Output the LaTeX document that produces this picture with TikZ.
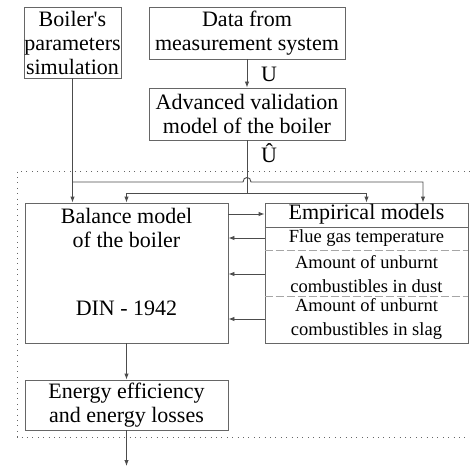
\documentclass[tikz,border=0pt]{standalone}
\usepackage{fontspec}
\setmainfont{Liberation Serif}
\usetikzlibrary{arrows.meta}
\newcommand{\boxfont}{\fontsize{22}{24}\selectfont}
\newcommand{\rowfont}{\fontsize{18.5}{24}\selectfont}
\tikzset{
  box/.style={draw=black!60, line width=0.9pt, inner sep=0pt, align=center, font=\boxfont},
  link/.style={black!70, line width=0.9pt},
}

\begin{document}
\begin{tikzpicture}[x=1pt,y=-1pt,>={Latex[length=6pt,width=4.5pt]}]
          \useasboundingbox (0,0) rectangle (470,468);
          % frame round the calculation part
          \draw[black!60, line width=0.9pt, dash pattern=on 0.9pt off 4.5pt]
          (470,171) -- (17,171) -- (17,437) -- (470,437);
          \node[box, minimum width=97pt, minimum height=71pt] (sim) at (72.5,42.5) {Boiler\textquotesingle s\\parameters\\simulation};
          \node[box, minimum width=196pt, minimum height=52pt] (data) at (247,33) {Data from\\measurement system};
          \node[box, minimum width=196pt, minimum height=52pt] (valid) at (247,114) {Advanced validation\\model of the boiler};
          \node[box, minimum width=203pt, minimum height=140pt] (balance) at (126.5,273) {};
          \node[font=\boxfont, align=center] (baltitle) at (126.5,228) {Balance model\\of the boiler};
          \node[font=\boxfont] (din) at (126.5,308) {DIN - 1942};
          \node[box, minimum width=203pt, minimum height=140pt] (emp) at (366.5,273) {};
          \node[font=\boxfont] (emptitle) at (366.5,214) {Empirical models};
          \node[font=\rowfont] (flue) at (366.5,238) {Flue gas temperature};
          \node[font=\rowfont, align=center] (dust) at (366.5,274) {Amount of unburnt\\combustibles in dust};
          \node[font=\rowfont, align=center] (slag) at (366.5,319) {Amount of unburnt\\combustibles in slag};
          \node[box, minimum width=203pt, minimum height=50pt] (energy) at (126.5,405) {Energy efficiency\\and energy losses};
          \coordinate (out) at (126.5,466);
          \node[font=\boxfont] (ulab) at (269,74) {U};
          \node[font=\boxfont] (uhatlab) at (269,153) {Û};
          % rows of the empirical models
          \draw[black!60, line width=0.9pt] (emp.west |- 0,227) -- (emp.east |- 0,227);
          \foreach \y in {250,296}{
          \draw[black!35, line width=0.9pt, dash pattern=on 8pt off 3pt] (emp.west |- 0,\y) -- (emp.east |- 0,\y);
          }
          \draw[link,->] (data) -- (valid);
          \draw[link,->] (sim.south) -- (sim.south |- balance.north);
          \draw[link,->] (sim.south |- 0,182) -- (243,182) .. controls (243,176) and (251,176) .. (251,182)
          -- (423,182) -- (423,0 |- emp.north);
          \draw[link] (valid.south) -- (valid.south |- 0,193);
          \draw[link,->] (balance.north |- 0,193) -- (emp.north |- 0,193) -- (emp.north);
          \draw[link,->] (balance.north |- 0,193) -- (balance.north);
          \draw[link,->] (balance.east |- emptitle) -- (emp.west |- emptitle);
          \foreach \r in {flue,dust,slag}{
          \draw[link,->] (emp.west |- \r) -- (balance.east |- \r);
          }
          \draw[link,->] (balance) -- (energy);
          \draw[link,->] (energy) -- (out);
        \end{tikzpicture}
\end{document}
